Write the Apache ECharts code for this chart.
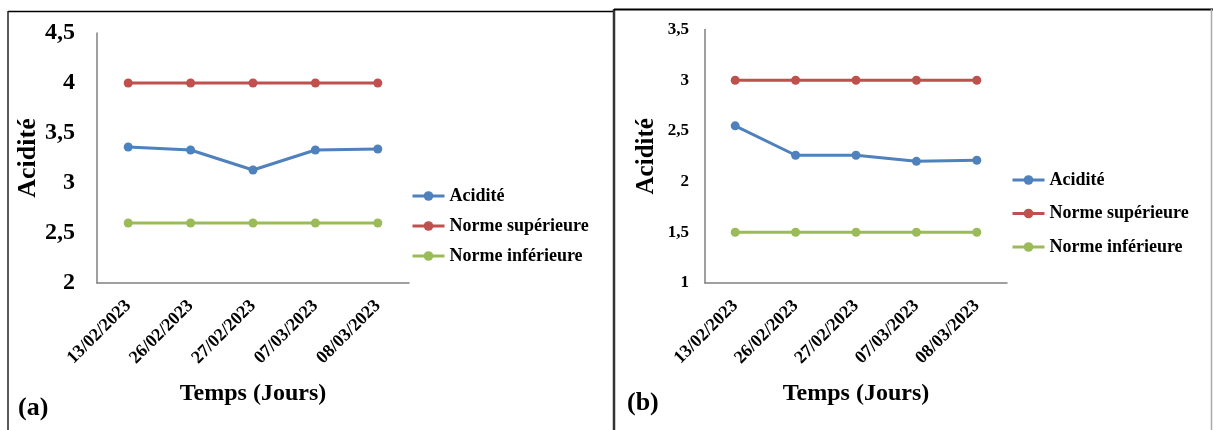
<!DOCTYPE html>
<html>
<head>
<meta charset="utf-8">
<style>
  html, body { margin: 0; padding: 0; background: #fff; }
  #chart { width: 1213px; height: 430px; }
</style>
<script src="https://cdn.jsdelivr.net/npm/echarts@6/dist/echarts.min.js"></script>
</head>
<body>
<div id="chart"></div>
<script>
// Sampling dates (shared by both panels)
const dates = ['13/02/2023', '26/02/2023', '27/02/2023', '07/03/2023', '08/03/2023'];

// Panel (a)
const acidityA = [3.36, 3.33, 3.13, 3.33, 3.34];
const upperA = [4, 4, 4, 4, 4];
const lowerA = [2.6, 2.6, 2.6, 2.6, 2.6];

// Panel (b)
const acidityB = [2.55, 2.26, 2.26, 2.20, 2.21];
const upperB = [3, 3, 3, 3, 3];
const lowerB = [1.5, 1.5, 1.5, 1.5, 1.5];

const seriesNames = ['Acidité', 'Norme supérieure', 'Norme inférieure'];
const colors = ['#4F81BD', '#C0504D', '#9BBB59'];

const FONT = '"Liberation Serif", "DejaVu Serif", serif';
const AXIS_COLOR = '#808080';

function yAxisFor(idx, min, max, labelSize, labelMargin, nameGap, nameSize) {
  return {
    type: 'value', gridIndex: idx, min: min, max: max, interval: 0.5,
    name: 'Acidité', nameLocation: 'middle', nameGap: nameGap,
    nameTextStyle: { fontFamily: FONT, fontWeight: 'bold', fontSize: nameSize, color: '#000' },
    axisLine: { show: true, lineStyle: { color: AXIS_COLOR, width: 1.5 } },
    axisTick: { show: false },
    splitLine: { show: false },
    axisLabel: {
      fontFamily: FONT, fontWeight: 'bold', fontSize: labelSize, color: '#000', margin: labelMargin,
      formatter: v => String(v).replace('.', ',')
    }
  };
}

function xAxisFor(idx) {
  return {
    type: 'category', gridIndex: idx, data: dates, boundaryGap: true,
    name: 'Temps (Jours)', nameLocation: 'middle', nameGap: 99,
    nameTextStyle: { fontFamily: FONT, fontWeight: 'bold', fontSize: 24, color: '#000' },
    axisLine: { show: true, lineStyle: { color: AXIS_COLOR, width: 1.5 } },
    axisTick: { show: false },
    axisLabel: { fontFamily: FONT, fontWeight: 'bold', fontSize: 18, color: '#000', rotate: 45, margin: 20, interval: 0 }
  };
}

function lineSeries(name, data, color, idx) {
  return {
    name: name, type: 'line', data: data, xAxisIndex: idx, yAxisIndex: idx,
    symbol: 'circle', symbolSize: 9, color: color,
    lineStyle: { width: 3, color: color },
    itemStyle: { color: color },
    emphasis: { disabled: true }
  };
}

function legendAt(left, top, gap) {
  return {
    left: left, top: top, orient: 'vertical',
    data: seriesNames, itemWidth: 32, itemHeight: 12, itemGap: gap,
    lineStyle: { width: 3 },
    textStyle: { fontFamily: FONT, fontWeight: 'bold', fontSize: 18, color: '#000' },
    selectedMode: false
  };
}

const chart = echarts.init(document.getElementById('chart'), null, { renderer: 'canvas' });

chart.setOption({
  backgroundColor: '#fff',
  animation: false,
  grid: [
    { left: 97, width: 312, top: 33, bottom: 147 },
    { left: 705, width: 302, top: 29.5, bottom: 147 }
  ],
  xAxis: [xAxisFor(0), xAxisFor(1)],
  yAxis: [
    yAxisFor(0, 2, 4.5, 24, 22, 56, 26),
    yAxisFor(1, 1, 3.5, 17, 16, 46, 25)
  ],
  legend: [legendAt(406, 182, 12), legendAt(1006, 166, 15.5)],
  series: [
    lineSeries(seriesNames[0], acidityA, colors[0], 0),
    lineSeries(seriesNames[1], upperA, colors[1], 0),
    lineSeries(seriesNames[2], lowerA, colors[2], 0),
    lineSeries(seriesNames[0], acidityB, colors[0], 1),
    lineSeries(seriesNames[1], upperB, colors[1], 1),
    lineSeries(seriesNames[2], lowerB, colors[2], 1)
  ],
  graphic: [
    // panel frames
    { type: 'line', shape: { x1: 8, y1: 11.5, x2: 613, y2: 11.5 }, style: { stroke: '#000', lineWidth: 1.5 } },
    { type: 'line', shape: { x1: 8, y1: 11, x2: 8, y2: 430 }, style: { stroke: '#222', lineWidth: 1.5 } },
    { type: 'line', shape: { x1: 614, y1: 9, x2: 614, y2: 430 }, style: { stroke: '#333', lineWidth: 2.5 } },
    { type: 'line', shape: { x1: 614, y1: 9.5, x2: 1213, y2: 9.5 }, style: { stroke: '#000', lineWidth: 2 } },
    { type: 'line', shape: { x1: 1211.5, y1: 9, x2: 1211.5, y2: 430 }, style: { stroke: '#aaa', lineWidth: 1.5 } },
    // panel tags
    { type: 'text', left: 18, top: 395, style: { text: '(a)', font: 'bold 26px ' + FONT, fill: '#000' } },
    { type: 'text', left: 627, top: 390, style: { text: '(b)', font: 'bold 26px ' + FONT, fill: '#000' } }
  ]
});
</script>
</body>
</html>
